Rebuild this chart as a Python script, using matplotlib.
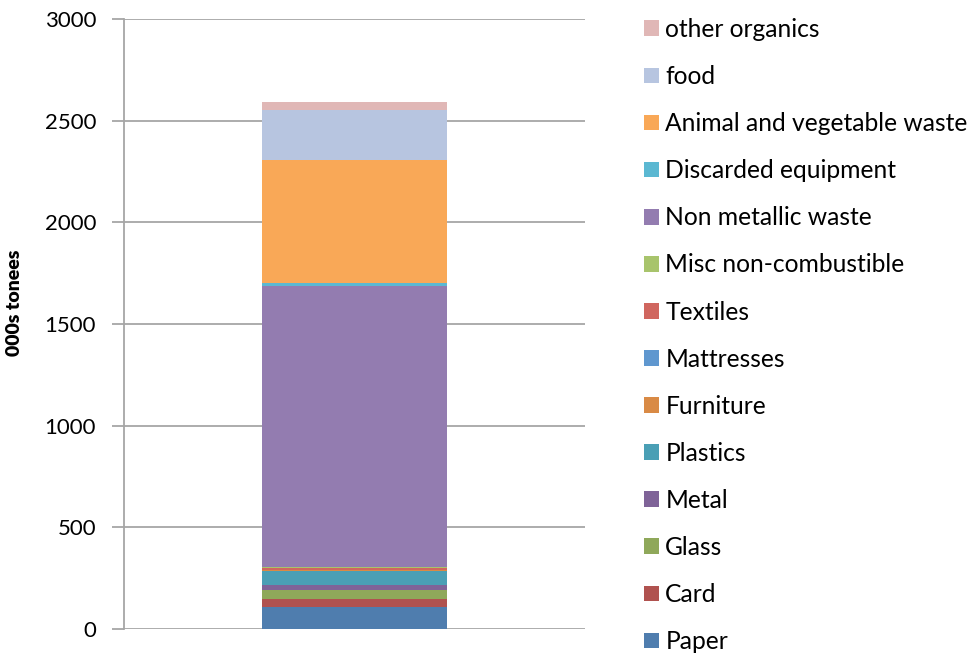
import matplotlib
matplotlib.use("Agg")
import matplotlib.pyplot as plt
from matplotlib.patches import Patch

plt.rcParams['font.family'] = ['Lato', 'DejaVu Sans']

# waste composition, bottom to top (000s tonnes)
categories = ["Paper", "Card", "Glass", "Metal", "Plastics", "Furniture", "Mattresses",
              "Textiles", "Misc non-combustible", "Non metallic waste", "Discarded equipment",
              "Animal and vegetable waste", "food", "other organics"]
values = [107, 39, 44, 25, 69, 6, 2, 6, 5, 1382, 15, 606, 249, 35]
colors = ["#4F7DAE", "#B0524F", "#8FA85A", "#7F6398", "#4A9FB5", "#D98A45", "#5F97CF",
          "#D0665F", "#A8C46C", "#937CB0", "#5BB8D2", "#F9A857", "#B7C5E0", "#E0B7B6"]
y_ticks = [0, 500, 1000, 1500, 2000, 2500, 3000]

fig = plt.figure(figsize=(9.73, 6.54), dpi=100)
ax = fig.add_axes([0.1274, 0.0382, 0.4738, 0.9327])

bottom = 0
for name, v, c in zip(categories, values, colors):
    ax.bar(0, v, width=0.4, bottom=bottom, color=c, label=name, zorder=3)
    bottom += v

ax.set_xlim(-0.5, 0.5)
ax.set_ylim(0, 3000)
ax.set_yticks(y_ticks)
ax.set_xticks([])
ax.yaxis.grid(True, color="#A6A6A6", linewidth=1.3, zorder=0)
for s in ["top", "right", "bottom"]:
    ax.spines[s].set_visible(False)
ax.spines["left"].set_color("#A6A6A6")
ax.spines["left"].set_linewidth(1.3)
ax.tick_params(axis="y", length=9, width=1.3, color="#A6A6A6", labelsize=16, pad=11)
ax.set_ylabel("000s tonees", fontsize=14, fontweight="heavy")
ax.yaxis.set_label_coords(-0.219, 0.534)

handles = [Patch(facecolor=c, edgecolor="none") for c in colors][::-1]
fig.legend(handles, categories[::-1], loc="upper left", bbox_to_anchor=(0.662, 0.9725),
           frameon=False, fontsize=17.7, handlelength=0.61, handleheight=0.61,
           handletextpad=0.25, labelspacing=0.98, borderpad=0, borderaxespad=0)

fig.savefig("out.png", dpi=100)
